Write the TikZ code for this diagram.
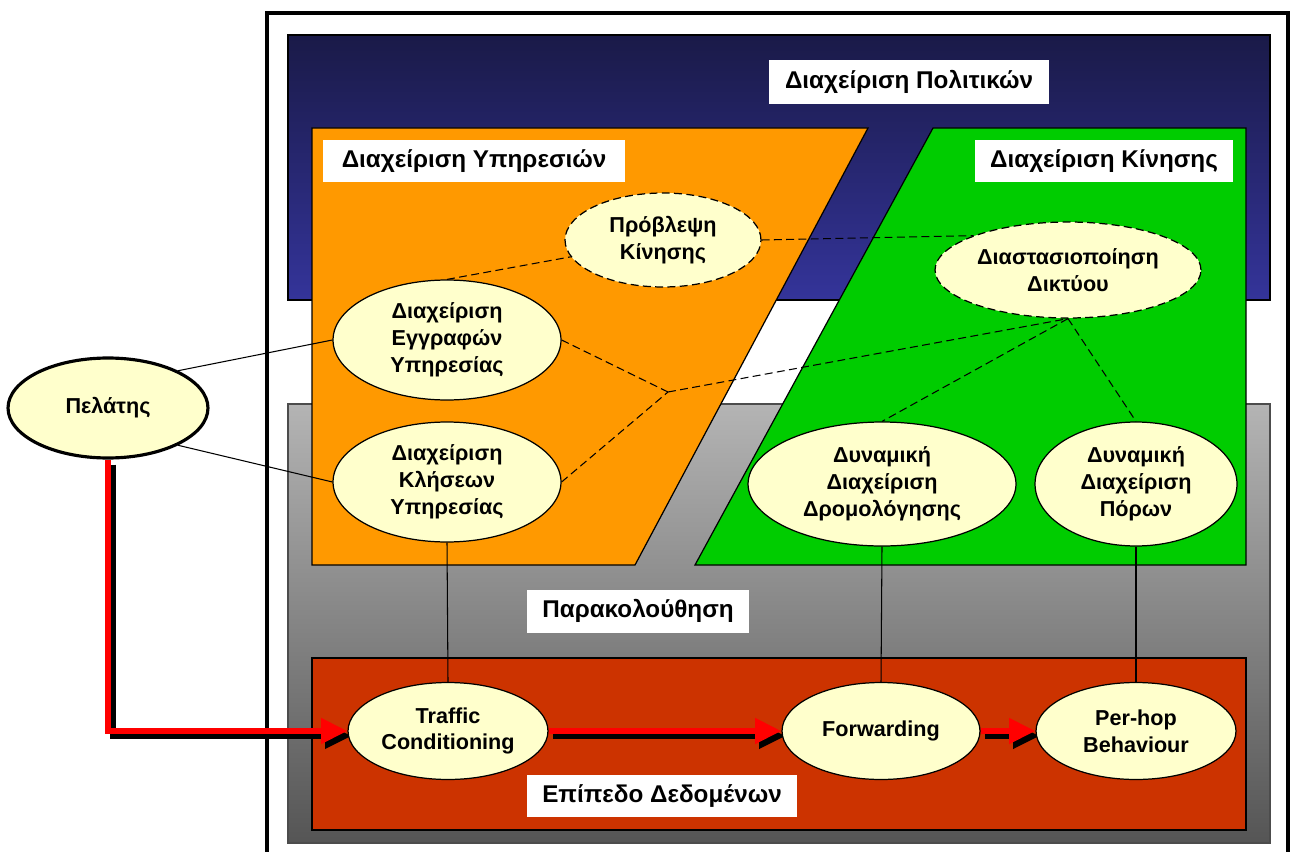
\documentclass[tikz,border=0pt]{standalone}
\usepackage{fontspec}
\setmainfont{Liberation Sans}
\usetikzlibrary{shapes.geometric,arrows.meta}

\definecolor{navytop}{HTML}{1A1A48}
\definecolor{navybot}{HTML}{34349A}
\definecolor{graytop}{HTML}{B4B4B4}
\definecolor{graybot}{HTML}{555555}
\definecolor{orangeC}{HTML}{FF9900}
\definecolor{greenC}{HTML}{00CC00}
\definecolor{brickC}{HTML}{CC3300}
\definecolor{creamC}{HTML}{FFFFCC}
\definecolor{arrowred}{HTML}{FF0000}

\pgfdeclarelayer{background}
\pgfdeclarelayer{edges}
\pgfsetlayers{background,edges,main}

\tikzset{
  bubble/.style={ellipse, draw=black, line width=0.7pt, fill=creamC, inner sep=0pt,
    align=center, font=\bfseries\fontsize{12.3}{15.3}\selectfont},
  dashbubble/.style={bubble, dash pattern=on 4.5pt off 2.5pt},
  tag/.style={fill=white, inner sep=0pt, font=\bfseries\fontsize{13.8}{16}\selectfont},
  dashlink/.style={draw=black, line width=0.6pt, dash pattern=on 4.5pt off 2.5pt},
  solidlink/.style={draw=black, line width=0.6pt},
  flow/.style={draw=arrowred, line width=3.4pt, -{Triangle[length=15pt,width=14pt]}},
  flowshadow/.style={draw=black, line width=3pt, -{Triangle[length=15pt,width=14pt]}},
  panel/.style={line width=0.7pt, draw=black}
}

\begin{document}
\begin{tikzpicture}[x=0.02cm, y=-0.02cm]
\useasboundingbox (0,0) rectangle (1290,851);
\clip (0,0) rectangle (1290,851);

\begin{pgfonlayer}{background}
  % outer frame
  \draw[line width=2.4pt] (267,13) rectangle (1288,880);
  % policy band and monitoring band
  \draw[panel, top color=navytop, bottom color=navybot] (288,35) rectangle (1270,300);
  \draw[panel, draw=black!70, top color=graytop, bottom color=graybot] (288,404) rectangle (1270,843);
  % service management and traffic management areas
  \draw[panel, fill=orangeC] (312,128) -- (868,128) -- (635,565) -- (312,565) -- cycle;
  \draw[panel, fill=greenC] (933,128) -- (1246,128) -- (1246,565) -- (695,565) -- cycle;
  % data plane
  \draw[panel, line width=1pt, fill=brickC] (312,658) rectangle (1246,830);
\end{pgfonlayer}

% area titles
\node[tag, minimum width=5.6cm, minimum height=0.9cm] (tpol) at (909,82) {Διαχείριση Πολιτικών};
\node[tag, minimum width=6.04cm, minimum height=0.86cm] (tsrv) at (474,161) {Διαχείριση Υπηρεσιών};
\node[tag, minimum width=5.18cm, minimum height=0.86cm] (ttrf) at (1104,161) {Διαχείριση Κίνησης};
\node[tag, minimum width=4.46cm, minimum height=0.86cm] (tmon) at (638,611) {Παρακολούθηση};
\node[tag, minimum width=5.4cm, minimum height=0.84cm] (tdat) at (662,796) {Επίπεδο Δεδομένων};

% functions
\node[bubble, line width=1.8pt, minimum width=4cm, minimum height=2cm] (pelatis) at (108,408) {Πελάτης};
\node[dashbubble, minimum width=3.92cm, minimum height=1.88cm] (provl) at (663,240) {Πρόβλεψη\\Κίνησης};
\node[dashbubble, minimum width=5.32cm, minimum height=1.92cm] (diast) at (1068,270) {Διαστασιοποίηση\\Δικτύου};
\node[bubble, minimum width=4.56cm, minimum height=2.4cm] (eggr) at (447,340) {Διαχείριση\\Εγγραφών\\Υπηρεσίας};
\node[bubble, minimum width=4.56cm, minimum height=2.4cm] (klis) at (447,482) {Διαχείριση\\Κλήσεων\\Υπηρεσίας};
\node[bubble, minimum width=5.36cm, minimum height=2.48cm] (dromol) at (882,484) {Δυναμική\\Διαχείριση\\Δρομολόγησης};
\node[bubble, minimum width=4.04cm, minimum height=2.48cm] (poron) at (1136,484) {Δυναμική\\Διαχείριση\\Πόρων};
\node[bubble, minimum width=4cm, minimum height=1.94cm] (traffic) at (448,731) {Traffic\\Conditioning};
\node[bubble, minimum width=3.96cm, minimum height=1.94cm] (forward) at (881,731) {Forwarding};
\node[bubble, minimum width=4cm, minimum height=1.94cm] (perhop) at (1136,731) {Per-hop\\Behaviour};

\coordinate (junc) at (668,392);

\begin{pgfonlayer}{edges}
  % dashed dependencies
  \draw[dashlink] (eggr.north) -- (provl);
  \draw[dashlink] (provl.east) -- (diast.160);
  \draw[dashlink] (eggr.east) -- (junc);
  \draw[dashlink] (klis.east) -- (junc);
  \draw[dashlink] (junc) -- (diast.south);
  \draw[dashlink] (diast.south) -- (dromol.north);
  \draw[dashlink] (diast.south) -- (poron.north);
  % solid links
  \draw[solidlink] (pelatis.28) -- (eggr.west);
  \draw[solidlink] (pelatis.-28) -- (klis.west);
  \draw[solidlink] (klis.south) -- (traffic.north);
  \draw[solidlink] (dromol.south) -- (forward.north);
  \draw[solidlink] (poron.south) -- (perhop.north);
  % packet flow, shadow first
  \draw[flowshadow] ([shift={(5,5)}]pelatis.south) |- ([shift={(4,5)}]traffic.west);
  \draw[flowshadow] ([shift={(4,5)}]traffic.east) -- ([shift={(4,5)}]forward.west);
  \draw[flowshadow] ([shift={(4,5)}]forward.east) -- ([shift={(4,5)}]perhop.west);
  \draw[flow] (pelatis.south) |- (traffic.west);
  \draw[flow] (traffic.east) -- (forward.west);
  \draw[flow] (forward.east) -- (perhop.west);
\end{pgfonlayer}
\end{tikzpicture}
\end{document}
